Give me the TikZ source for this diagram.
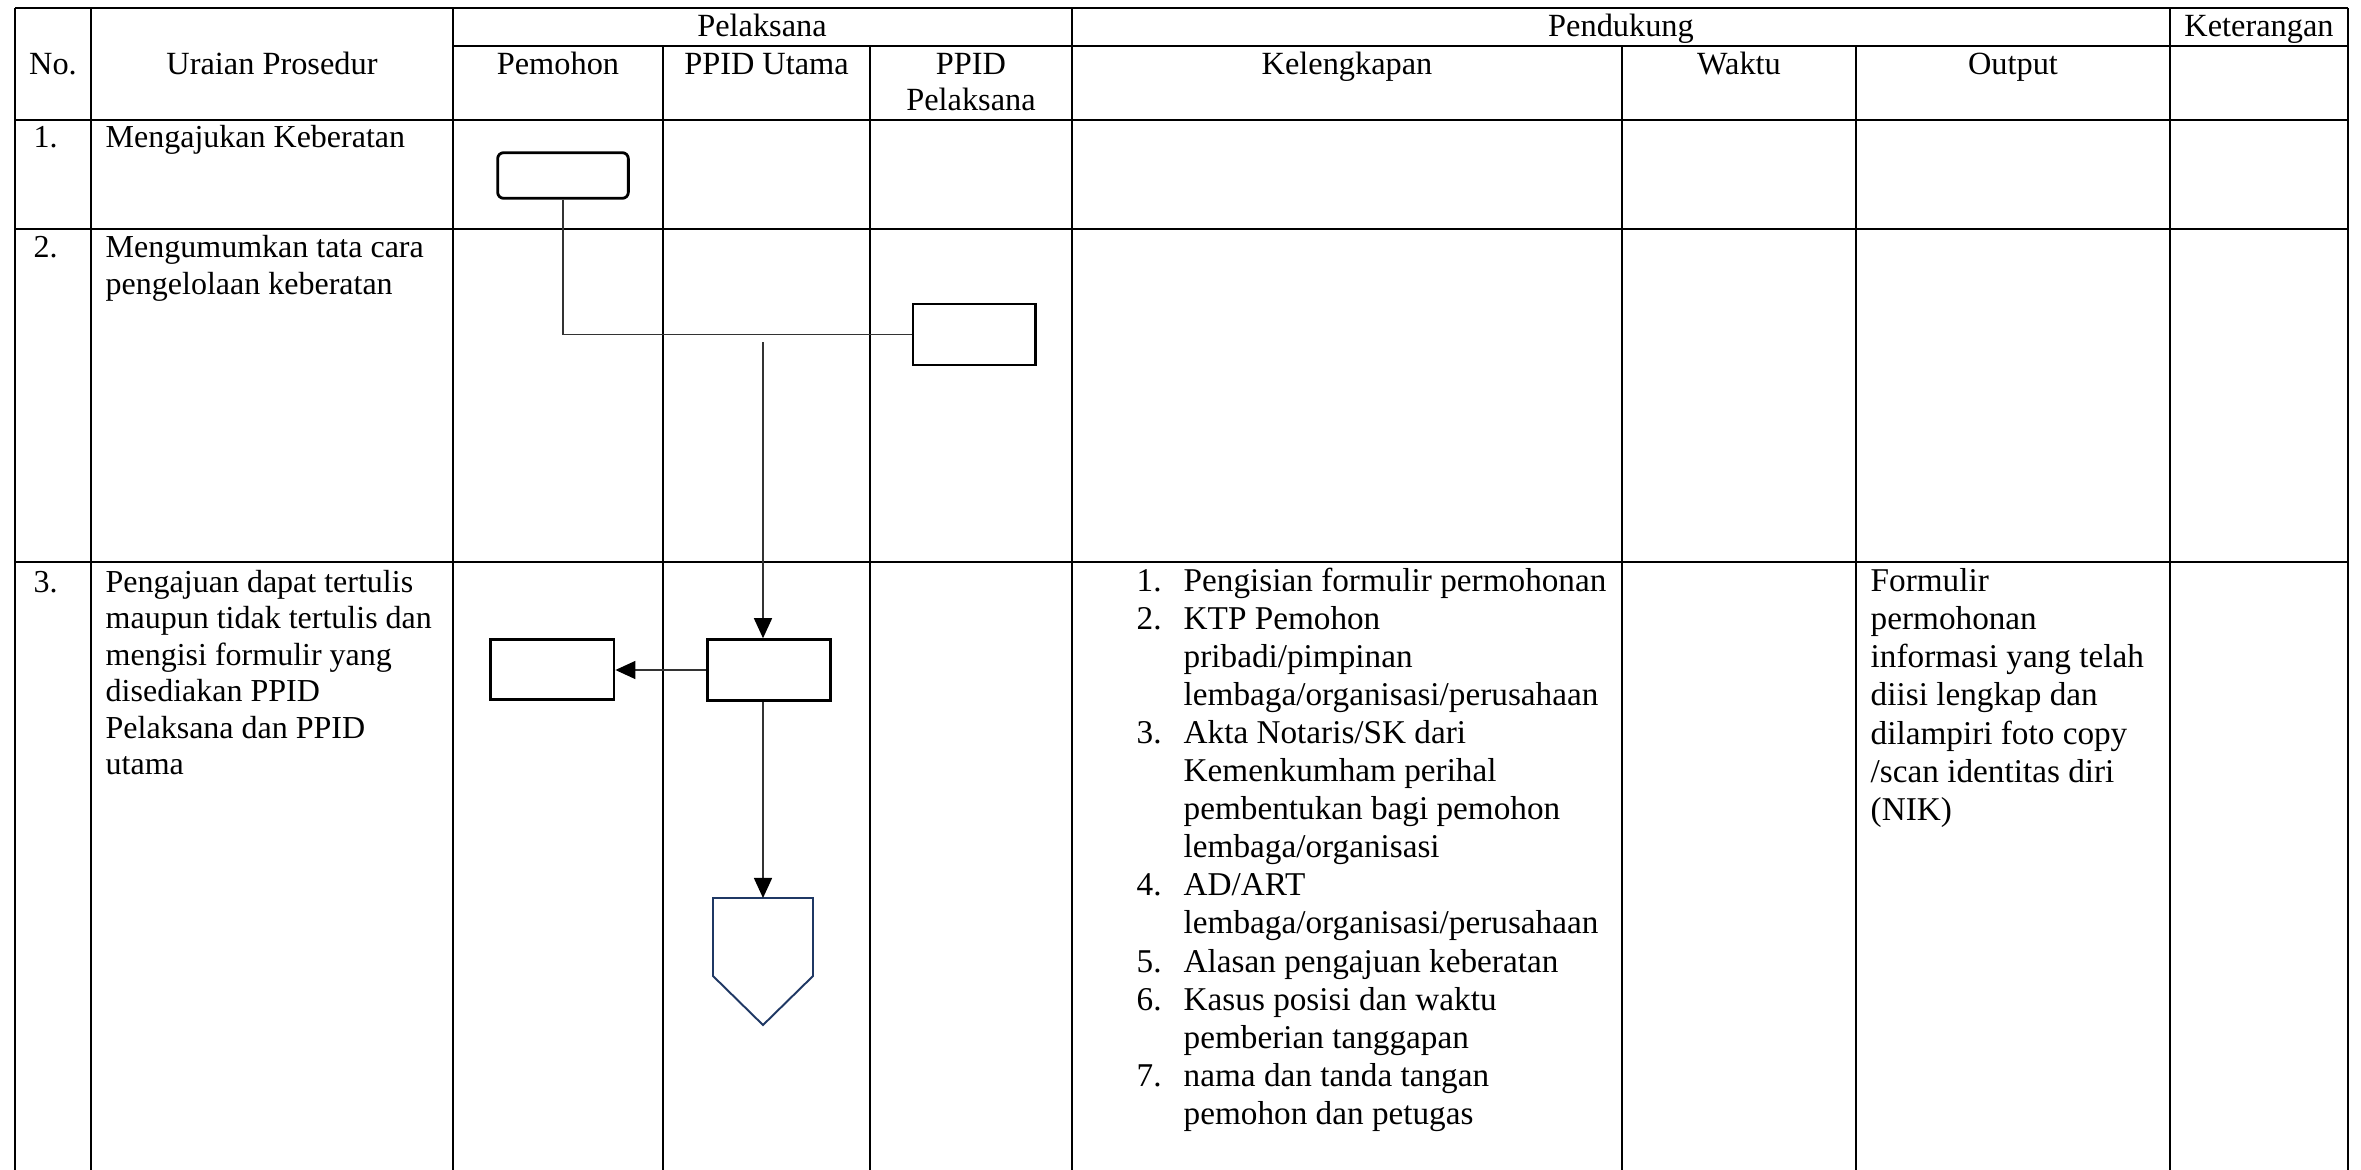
\documentclass[tikz,border=0pt]{standalone}
\usepackage{fontspec}
\setmainfont{Liberation Serif}
\usetikzlibrary{arrows.meta}
\definecolor{pnavy}{HTML}{1F3864}
\begin{document}
\begin{tikzpicture}[x=0.01cm,y=-0.01cm,
  gridline/.style={line width=0.6pt},
  txt/.style={font=\fontsize{9.1}{10.5}\selectfont, inner sep=0pt, anchor=base west},
  hdr/.style={font=\fontsize{9.2}{10.5}\selectfont, inner sep=0pt, anchor=base},
  suptext/.style={font=\fontsize{9.45}{10.8}\selectfont, inner sep=0pt, anchor=base west},
  boxshape/.style={draw, line width=0.8pt, inner sep=0pt},
  conn/.style={line width=0.4pt, draw=black!80},
  arr/.style={conn, -{Triangle[length=0.2cm,width=0.18cm,fill=black,color=black]}},
]
\fill[white] (0,0) rectangle (2361,1170);
\useasboundingbox (0,0) rectangle (2361,1170);

% table grid
\draw[gridline] (15,8) -- (2348,8);
\draw[gridline] (453,46) -- (2348,46);
\draw[gridline] (15,120) -- (2348,120);
\draw[gridline] (15,229) -- (2348,229);
\draw[gridline] (15,562) -- (2348,562);
\foreach \x in {15,91,453,1072,2170,2348} \draw[gridline] (\x,8) -- (\x,1172);
\foreach \x in {663,870,1622,1856} \draw[gridline] (\x,46) -- (\x,1172);

% headers
\node[hdr] (hpel) at (762,37) {Pelaksana};
\node[hdr] (hpend) at (1621,37) {Pendukung};
\node[hdr] (hket) at (2259,37) {Keterangan};
\node[hdr] (hno) at (53,75) {No.};
\node[hdr] (hur) at (272,75) {Uraian Prosedur};
\node[hdr] (hpem) at (558,75) {Pemohon};
\node[hdr] (hutama) at (766.5,75) {PPID Utama};
\node[hdr] (hppid) at (971,75) {PPID};
\node[hdr] (hppid2) at (971,111) {Pelaksana};
\node[hdr] (hkel) at (1347,75) {Kelengkapan};
\node[hdr] (hwak) at (1739,75) {Waktu};
\node[hdr] (hout) at (2013,75) {Output};

% left column
\node[txt] (n1) at (33,148) {1.};
\node[txt] (u1) at (105,148) {Mengajukan Keberatan};
\node[txt] (n2) at (33,258) {2.};
\node[txt] (u2a) at (105,258) {Mengumumkan tata cara};
\node[txt] (u2b) at (105,294.5) {pengelolaan keberatan};
\node[txt] (n3) at (33,592) {3.};
\foreach \t [count=\i] in {Pengajuan dapat tertulis, maupun tidak tertulis dan, mengisi formulir yang, disediakan PPID, Pelaksana dan PPID, utama}
  \node[txt] (u3\i) at (105,{592+36.5*(\i-1)}) {\t};

% kelengkapan
\foreach \t [count=\i] in {Pengisian formulir permohonan, KTP Pemohon, pribadi/pimpinan, lembaga/organisasi/perusahaan, Akta Notaris/SK dari, Kemenkumham perihal, pembentukan bagi pemohon, lembaga/organisasi, AD/ART, lembaga/organisasi/perusahaan, Alasan pengajuan keberatan, Kasus posisi dan waktu, pemberian tanggapan, nama dan tanda tangan, pemohon dan petugas}
  \node[suptext] (k\i) at (1183,{591+38.1*(\i-1)}) {\t};
\foreach \l/\n in {1/1,2/2,5/3,9/4,11/5,12/6,14/7}
  \node[suptext] (kn\n) at (1136,{591+38.1*(\l-1)}) {\n.};

% output
\foreach \t [count=\i] in {Formulir, permohonan, informasi yang telah, diisi lengkap dan, dilampiri foto copy, /scan identitas diri, (NIK)}
  \node[suptext] (o\i) at (1870,{591+38.3*(\i-1)}) {\t};

% flow shapes
\node[boxshape, rounded corners=0.06cm, minimum width=1.306cm, minimum height=0.456cm] (start) at (563,175.5) {};
\node[boxshape, minimum width=1.228cm, minimum height=0.61cm] (pel) at (974.4,334.5) {};
\node[boxshape, minimum width=1.23cm, minimum height=0.607cm] (utama) at (769,670) {};
\node[boxshape, minimum width=1.233cm, minimum height=0.597cm] (pbox) at (552.3,669.5) {};
\coordinate (pentop) at (763,898);
\draw[draw=pnavy, line width=0.55pt] (713,898) -- (813,898) -- (813,976) -- (763,1025) -- (713,976) -- cycle;

% connectors
\draw[conn] (start.south) |- (pel.west);
\coordinate (j) at (763,342);
\draw[arr] (j) -- (j |- utama.north);
\draw[arr] (utama.west) -- (utama.west -| pbox.east);
\draw[arr] (utama.south -| pentop) -- (pentop);
\end{tikzpicture}
\end{document}
